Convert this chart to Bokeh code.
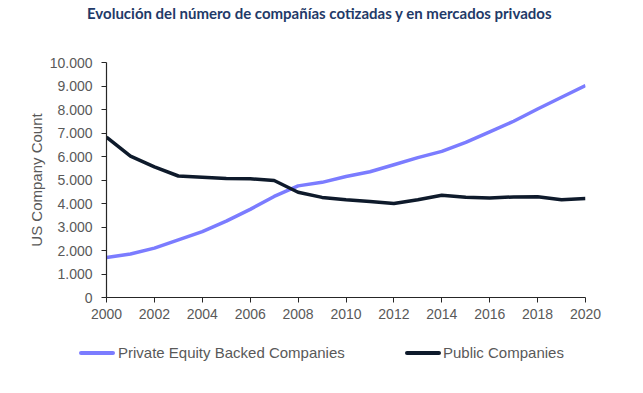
from bokeh.plotting import figure
from bokeh.models import Range1d, FixedTicker, CustomJSTickFormatter, Div
from bokeh.layouts import column
from bokeh.embed import file_html
from bokeh.resources import INLINE

years = list(range(2000, 2021))
private_equity = [1700, 1850, 2100, 2450, 2800, 3250, 3750, 4300, 4750, 4900,
                  5150, 5350, 5650, 5950, 6220, 6600, 7050, 7500, 8020, 8520, 9020]
public = [6820, 6020, 5560, 5170, 5120, 5060, 5050, 4980, 4480, 4260,
          4160, 4090, 4000, 4160, 4350, 4270, 4230, 4280, 4290, 4160, 4210]
y_ticks = list(range(0, 10001, 1000))
x_ticks = list(range(2000, 2021, 2))
title_text = "Evolución del número de compañías cotizadas y en mercados privados"
y_label = "US Company Count"
series_names = ["Private Equity Backed Companies", "Public Companies"]
colors = ["#7b7cff", "#0e1a2b"]

W = 635

# ---- title strip ----
title_html = (
    '<div style="position:relative;width:%dpx;height:52px;margin:0;padding:0;">'
    '<span style="position:absolute;left:87px;top:4px;line-height:18px;'
    'font-family:Lato;font-weight:bold;font-size:15px;color:#1f3a68;'
    'white-space:nowrap;">%s</span></div>' % (W, title_text))
tdiv = Div(text=title_html, width=W, height=52, margin=(0, 0, 0, 0))

# ---- main chart ----
p = figure(width=W, height=275, output_backend="svg", toolbar_location=None,
           x_range=Range1d(2000, 2020), y_range=Range1d(0, 10000),
           min_border_left=106, min_border_right=50, min_border_top=10,
           min_border_bottom=30, margin=(0, 0, 0, 0))
p.outline_line_color = None
p.xgrid.grid_line_color = None
p.ygrid.grid_line_color = None

for ax in (p.xaxis[0], p.yaxis[0]):
    ax.axis_line_color = "#262626"
    ax.axis_line_width = 1.2
    ax.major_tick_line_color = "#262626"
    ax.major_tick_in = 0
    ax.major_tick_out = 5
    ax.minor_tick_line_color = None
    ax.major_label_text_color = "#595959"
    ax.major_label_text_font = "Liberation Sans"
    ax.major_label_text_font_size = "14px"

p.xaxis.ticker = FixedTicker(ticks=x_ticks)
p.yaxis.ticker = FixedTicker(ticks=y_ticks)
p.xaxis.major_label_standoff = 6
p.yaxis.major_label_standoff = 9
p.yaxis.formatter = CustomJSTickFormatter(
    code="return Math.round(tick).toString().replace(/\\B(?=(\\d{3})+(?!\\d))/g, '.');")
p.yaxis.axis_label = y_label
p.yaxis.axis_label_text_font = "Liberation Sans"
p.yaxis.axis_label_text_font_size = "15px"
p.yaxis.axis_label_text_font_style = "normal"
p.yaxis.axis_label_text_color = "#595959"
p.yaxis.axis_label_standoff = 2

p.line(years, private_equity, line_color=colors[0], line_width=3.5)
p.line(years, public, line_color=colors[1], line_width=3.5)

# ---- legend strip ----
def legend_item(x_glyph, x_text, color, label):
    return (
        '<span style="position:absolute;left:%dpx;top:24px;width:36px;height:3.5px;'
        'background:%s;border-radius:2px;"></span>'
        '<span style="position:absolute;left:%dpx;top:17px;line-height:18px;'
        'font-family:\'Liberation Sans\';font-size:15px;color:#595959;'
        'white-space:nowrap;">%s</span>' % (x_glyph, color, x_text, label))

legend_html = (
    '<div style="position:relative;width:%dpx;height:58px;margin:0;padding:0;">' % W
    + legend_item(79, 118, colors[0], series_names[0])
    + legend_item(405, 443, colors[1], series_names[1])
    + '</div>')
ldiv = Div(text=legend_html, width=W, height=58, margin=(0, 0, 0, 0))

layout = column(tdiv, p, ldiv, spacing=0)
open("out.html", "w").write(file_html(layout, INLINE))
